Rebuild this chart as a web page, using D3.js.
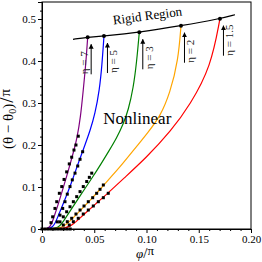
<!DOCTYPE html>
<html>
<head>
<meta charset="utf-8">
<script src="https://cdn.jsdelivr.net/npm/d3@7"></script>
<style>
  body { margin: 0; background: #fff; }
  text { font-family: "Liberation Serif", "Times New Roman", serif; }
</style>
</head>
<body>
<svg id="chart"></svg>
<script>
// curves, one pair of arrays per eta
var phi7   = [0, 0.0077, 0.0115, 0.0153, 0.0191, 0.0234, 0.0278, 0.0311, 0.0335, 0.0368, 0.0395, 0.0421, 0.0437];
var theta7 = [0, 0, 0.0286, 0.0571, 0.0881, 0.1238, 0.1619, 0.1929, 0.2167, 0.2643, 0.331, 0.3976, 0.4564];
var phi5   = [0, 0.0108, 0.0153, 0.0211, 0.0278, 0.0347, 0.0411, 0.0459, 0.0507, 0.055, 0.0574, 0.0593];
var theta5 = [0, 0, 0.031, 0.0643, 0.1071, 0.1571, 0.2, 0.2333, 0.2738, 0.331, 0.3905, 0.4595];
var phi3   = [0, 0.0153, 0.0201, 0.0287, 0.0383, 0.0478, 0.0565, 0.0641, 0.0715, 0.0778, 0.0826, 0.0874, 0.0906, 0.0931];
var theta3 = [0, 0, 0.0167, 0.05, 0.0857, 0.121, 0.155, 0.186, 0.217, 0.25, 0.283, 0.336, 0.398, 0.4683];
var phi2   = [0, 0.0191, 0.0268, 0.0364, 0.0459, 0.0555, 0.0634, 0.0746, 0.0874, 0.1017, 0.1129, 0.1225, 0.1304, 0.133];
var theta2 = [0, 0, 0.019, 0.0429, 0.0679, 0.094, 0.1167, 0.1476, 0.1869, 0.231, 0.2674, 0.3231, 0.4024, 0.484];
var phi15   = [0, 0.0249, 0.0316, 0.0411, 0.0507, 0.0632, 0.0775, 0.0995, 0.1234, 0.1416, 0.1617, 0.1703];
var theta15 = [0, 0, 0.0155, 0.0369, 0.0583, 0.0857, 0.119, 0.169, 0.2333, 0.2952, 0.3864, 0.5007];

// black square markers
var dotPhi7   = [0.0347, 0.0325, 0.0306, 0.0284, 0.0261, 0.0236, 0.0211, 0.0189, 0.0166, 0.0141, 0.0124, 0.0102, 0.0086];
var dotTheta7 = [0.221, 0.200, 0.188, 0.171, 0.155, 0.136, 0.118, 0.101, 0.085, 0.065, 0.049, 0.029, 0.015];
var dotPhi5   = [0.0389, 0.0364, 0.0342, 0.0316, 0.0290, 0.0268, 0.0242, 0.0220, 0.0198, 0.0172, 0.0146];
var dotTheta5 = [0.184, 0.166, 0.150, 0.133, 0.117, 0.101, 0.083, 0.065, 0.049, 0.033, 0.017];
var dotPhi3   = [0.0476, 0.0453, 0.0428, 0.0395, 0.0364, 0.0332, 0.0300, 0.0268, 0.0236, 0.0204, 0.0172];
var dotTheta3 = [0.133, 0.123, 0.113, 0.101, 0.089, 0.077, 0.065, 0.053, 0.041, 0.029, 0.017];
var dotPhi2   = [0.0587, 0.0555, 0.0523, 0.0485, 0.0443, 0.0402, 0.0364, 0.0325, 0.0284, 0.0242, 0.0204];
var dotTheta2 = [0.1048, 0.0945, 0.085, 0.0745, 0.065, 0.0548, 0.0452, 0.0357, 0.0255, 0.0174, 0.0095];
var dotPhi15   = [0.0634, 0.0587, 0.0539, 0.0491, 0.0443, 0.0395, 0.0347, 0.03, 0.0261];
var dotTheta15 = [0.085, 0.0745, 0.065, 0.0548, 0.0452, 0.0357, 0.0255, 0.0174, 0.0095];
var zeroPhi = [0, 0.003, 0.006, 0.009, 0.012, 0.015, 0.018, 0.021, 0.024, 0.027];

// rigid region boundary
var rigidPhi   = [0.0297, 0.0437, 0.0593, 0.0931, 0.133, 0.1703, 0.1847];
var rigidTheta = [0.4517, 0.4564, 0.4595, 0.4683, 0.484, 0.5007, 0.5102];

var etaLabels = ['η = 7', 'η = 5', 'η = 3', 'η = 2', 'η = 1.5'];
var xTicks = [0, 0.05, 0.1, 0.15, 0.2];
var xTickLabels = ['0', '0.05', '0.10', '0.15', '0.20'];
var xMinor = [0.01, 0.02, 0.03, 0.04, 0.06, 0.07, 0.08, 0.09, 0.11, 0.12, 0.13, 0.14, 0.16, 0.17, 0.18, 0.19];
var yTicks = [0, 0.1, 0.2, 0.3, 0.4, 0.5];
var yTickLabels = ['0', '0.1', '0.2', '0.3', '0.4', '0.5'];
var yMinor = [0.02, 0.04, 0.06, 0.08, 0.12, 0.14, 0.16, 0.18, 0.22, 0.24, 0.26, 0.28, 0.32, 0.34, 0.36, 0.38, 0.42, 0.44, 0.46, 0.48, 0.52];

var colors = ['#800080', '#0000ff', '#008000', '#ffa500', '#ff0000'];

var width = 262, height = 262,
    margin = {top: 2, right: 11, bottom: 33, left: 42},
    innerWidth = width - margin.left - margin.right,
    innerHeight = height - margin.top - margin.bottom;

var xScale = d3.scaleLinear().domain([0, 0.2]).range([0, innerWidth]);
var yScale = d3.scaleLinear().domain([0, 0.5405]).range([innerHeight, 0]);

var curves = [[phi7, theta7], [phi5, theta5], [phi3, theta3], [phi2, theta2], [phi15, theta15]]
  .map(function (c) { return c[0].map(function (p, i) { return [p, c[1][i]]; }); });
var dotSets = [[dotPhi7, dotTheta7], [dotPhi5, dotTheta5], [dotPhi3, dotTheta3], [dotPhi2, dotTheta2], [dotPhi15, dotTheta15]]
  .map(function (c) { return c[0].map(function (p, i) { return [p, c[1][i]]; }); });
var allDots = d3.merge(dotSets).concat(zeroPhi.map(function (p) { return [p, 0]; }));
var rigid = rigidPhi.map(function (p, i) { return [p, rigidTheta[i]]; });

var svg = d3.select('#chart').attr('width', width).attr('height', height);
var g = svg.append('g').attr('transform', 'translate(' + margin.left + ',' + margin.top + ')');

var line = d3.line()
  .x(function (d) { return xScale(d[0]); })
  .y(function (d) { return yScale(d[1]); })
  .curve(d3.curveBasis);

g.selectAll('.curve')
  .data(curves)
  .enter()
  .append('path')
  .attr('class', 'curve')
  .attr('d', line)
  .attr('fill', 'none')
  .attr('stroke', function (d, i) { return colors[i]; })
  .attr('stroke-width', 1.2);

g.selectAll('.dot')
  .data(allDots)
  .enter()
  .append('rect')
  .attr('x', function (d) { return xScale(d[0]) - 1.5; })
  .attr('y', function (d) { return yScale(d[1]) - 1.5; })
  .attr('width', 3)
  .attr('height', 3)
  .attr('fill', '#000');

g.append('path')
  .attr('d', line(rigid))
  .attr('fill', 'none')
  .attr('stroke', '#000')
  .attr('stroke-width', 1.2);

var ends = curves.map(function (c) { return c[c.length - 1]; });

g.selectAll('.end')
  .data(ends)
  .enter()
  .append('circle')
  .attr('cx', function (d) { return xScale(d[0]); })
  .attr('cy', function (d) { return yScale(d[1]); })
  .attr('r', 2)
  .attr('fill', '#000');

// arrows + eta labels
svg.append('defs').append('marker')
  .attr('id', 'head')
  .attr('viewBox', '0 0 10 10')
  .attr('refX', 9).attr('refY', 5)
  .attr('markerWidth', 5).attr('markerHeight', 6)
  .attr('markerUnits', 'userSpaceOnUse')
  .attr('orient', 'auto')
  .append('path').attr('d', 'M0,0 L10,5 L0,10 Z').attr('fill', '#000');

ends.forEach(function (d, i) {
  var ax = xScale(d[0]) + 3.5,
      top = yScale(d[1]) + 7,
      bottom = top + 30;
  g.append('line')
    .attr('x1', ax).attr('x2', ax)
    .attr('y1', bottom).attr('y2', top)
    .attr('stroke', '#000')
    .attr('stroke-width', 1)
    .attr('marker-end', 'url(#head)');
  var tx = i === 0 ? ax - 3 : ax + 10;
  g.append('text')
    .attr('transform', 'translate(' + tx + ',' + bottom + ') rotate(-90)')
    .attr('font-size', 11)
    .attr('fill', '#222')
    .text(etaLabels[i]);
});

g.append('text')
  .attr('x', xScale(0.0587))
  .attr('y', yScale(0.25))
  .attr('font-size', 17)
  .text('Nonlinear');

g.append('text')
  .attr('transform', 'translate(' + xScale(0.1014) + ',' + yScale(0.4976) + ') rotate(-7.5)')
  .attr('text-anchor', 'middle')
  .attr('font-size', 13)
  .text('Rigid Region');

// frame
g.append('rect')
  .attr('width', innerWidth)
  .attr('height', innerHeight)
  .attr('fill', 'none')
  .attr('stroke', '#000')
  .attr('stroke-width', 1);

var xAxis = d3.axisBottom(xScale).tickValues(xTicks)
  .tickFormat(function (d, i) { return xTickLabels[i]; }).tickSize(4).tickPadding(2);
var yAxis = d3.axisLeft(yScale).tickValues(yTicks)
  .tickFormat(function (d, i) { return yTickLabels[i]; }).tickSize(4).tickPadding(2);

g.append('g').attr('class', 'x axis')
  .attr('transform', 'translate(0,' + innerHeight + ')')
  .call(xAxis);
g.append('g').attr('class', 'x minor')
  .attr('transform', 'translate(0,' + innerHeight + ')')
  .call(d3.axisBottom(xScale).tickValues(xMinor).tickFormat('').tickSize(2));
g.append('g').attr('class', 'y axis').call(yAxis);
g.append('g').attr('class', 'y minor')
  .call(d3.axisLeft(yScale).tickValues(yMinor).tickFormat('').tickSize(2));

g.selectAll('.minor text').remove();
g.selectAll('.axis text')
  .attr('font-family', '"Liberation Serif", serif')
  .attr('font-size', 11)
  .attr('fill', '#000');
g.selectAll('.axis path, .minor path').attr('stroke', '#000');
g.selectAll('.axis line, .minor line').attr('stroke', '#000');

// axis titles
var yt = svg.append('text')
  .attr('transform', 'translate(13,119) rotate(-90)')
  .attr('text-anchor', 'middle')
  .attr('font-size', 15);
yt.append('tspan').text('(θ − θ');
yt.append('tspan').attr('font-size', 10).attr('dy', 3).text('0');
yt.append('tspan').attr('dy', -3).text(')');
yt.append('tspan').attr('font-size', 19).attr('dx', 1).text('/');
yt.append('tspan').attr('dy', -3).attr('dx', 1).text('π');

var xt = svg.append('text')
  .attr('x', 145)
  .attr('y', 258)
  .attr('text-anchor', 'middle')
  .attr('font-size', 13);
xt.append('tspan').attr('font-style', 'italic').text('φ');
xt.append('tspan').attr('font-size', 15).text('/');
xt.append('tspan').attr('dy', -3).text('π');
</script>
</body>
</html>
